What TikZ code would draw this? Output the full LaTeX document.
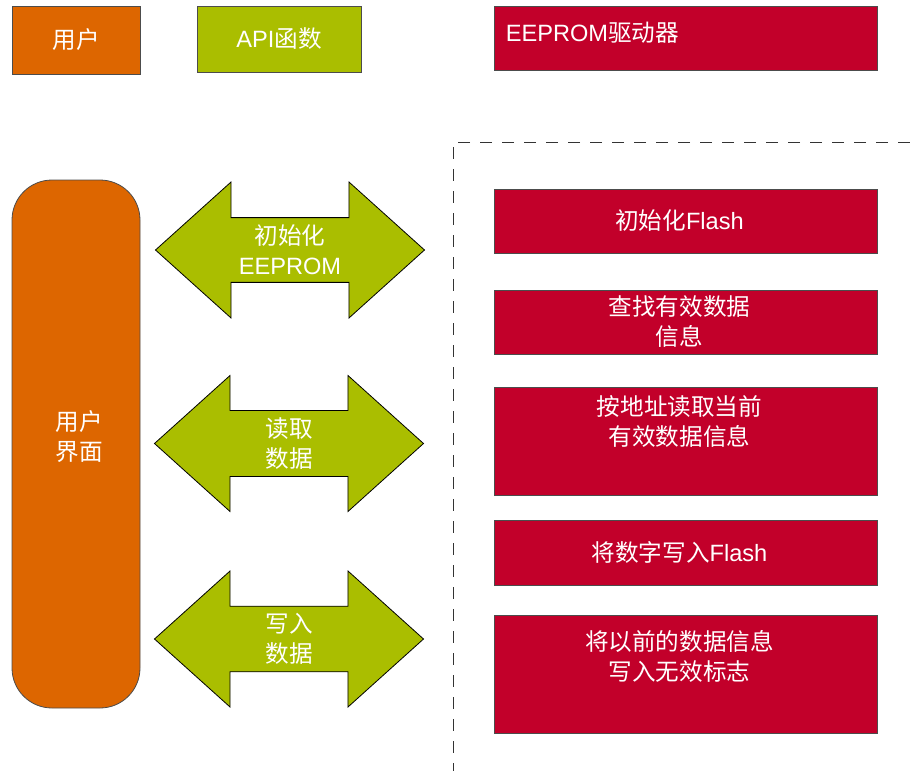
\documentclass[tikz,border=0pt]{standalone}
\usepackage{fontspec}
\setmainfont{Liberation Sans}
\newfontfamily\cjk{Noto Sans CJK SC}
\usepackage{tikz}
\usetikzlibrary{shapes.arrows, calc}
\definecolor{userorange}{HTML}{DD6600}
\definecolor{apigreen}{HTML}{AABE00}
\definecolor{drvred}{HTML}{C2002A}
\newcommand{\zh}[1]{{\cjk #1}}

\begin{document}
\begin{tikzpicture}[x=1pt, y=-1pt, inner sep=0pt, text=white,
		font=\fontsize{23.6}{30}\selectfont,
		userbox/.style={draw=black!70, line width=0.8pt, fill=userorange, align=center},
		apibox/.style={draw=black!70, line width=0.8pt, fill=apigreen},
		drvbox/.style={draw=black!70, line width=0.8pt, fill=drvred, minimum width=383pt},
		drvtext/.style={align=center},
		apiarrow/.style={double arrow, draw=black, line width=0.8pt, fill=apigreen, align=center,
			minimum height=269pt, minimum width=136pt, double arrow head extend=28pt,
			double arrow tip angle=84}]
			\useasboundingbox (0,0) rectangle (910,771);
			
			\node[userbox, minimum width=128pt, minimum height=68pt] (user) at (76,40) {\zh{用户}};
			\node[apibox, minimum width=164pt, minimum height=66pt] (api) at (279,39) {API\zh{函数}};
			\node[drvbox, minimum height=64pt] (driver) at (685.5,38) {};
			\node[anchor=west] (driver_t) at ([xshift=12pt, yshift=5pt]driver.west) {EEPROM\zh{驱动器}};
			
			\node[userbox, rounded corners=40pt, minimum width=128pt, minimum height=528pt] (ui) at (76,444) {};
			\node[align=center] (ui_t) at ([xshift=3pt, yshift=7pt]ui.center) {\zh{用户}\\\zh{界面}};
			
			\node[apiarrow] (init) at (290,250) {\zh{初始化}\\EEPROM};
			\node[apiarrow] (read) at (289,443.5) {\zh{读取}\\\zh{数据}};
			\node[apiarrow] (write) at (289,639) {\zh{写入}\\\zh{数据}};
			
			\coordinate (dash_r) at (910,142);
			\coordinate (dash_c) at (453,142);
			\coordinate (dash_b) at (453,771);
			\draw[black!80, line width=0.8pt, dash pattern=on 12pt off 10pt] (dash_r) -- (dash_c) -- (dash_b);
			
			\node[drvbox, minimum height=64pt] (flash_init) at (685.5,221) {};
			\node[drvtext] (flash_init_t) at ([xshift=-6pt]flash_init.center) {\zh{初始化}Flash};
			\node[drvbox, minimum height=64pt] (find) at (685.5,322) {};
			\node[drvtext] (find_t) at ([xshift=-6pt]find.center) {\zh{查找有效数据}\\\zh{信息}};
			\node[drvbox, minimum height=108pt] (read_addr) at (685.5,441) {};
			\node[drvtext] (read_addr_t) at ([xshift=-6pt, yshift=19pt]read_addr.center) {\zh{按地址读取当前}\\\zh{有效数据信息}};
			\node[drvbox, minimum height=65pt] (write_flash) at (685.5,552.5) {};
			\node[drvtext] (write_flash_t) at ([xshift=-6pt]write_flash.center) {\zh{将数字写入}Flash};
			\node[drvbox, minimum height=118pt] (mark_old) at (685.5,674) {};
			\node[drvtext] (mark_old_t) at ([xshift=-6pt, yshift=18pt]mark_old.center) {\zh{将以前的数据信息}\\\zh{写入无效标志}};
		\end{tikzpicture}
\end{document}
